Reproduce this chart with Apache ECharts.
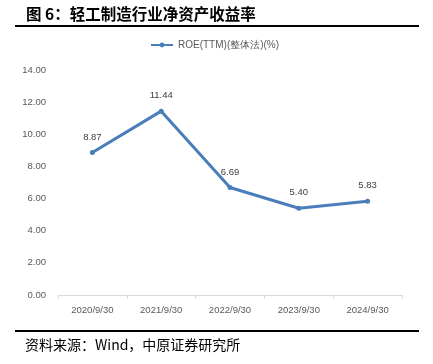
<!DOCTYPE html>
<html><head><meta charset="utf-8">
<script src="https://cdn.jsdelivr.net/npm/echarts@6/dist/echarts.min.js"></script>
<style>html,body{margin:0;padding:0;background:#fff;}#c{width:433px;height:364px;}</style>
</head><body><div id="c"></div>
<script>
const categories = ['2020/9/30','2021/9/30','2022/9/30','2023/9/30','2024/9/30'];
const roeValues = [8.87, 11.44, 6.69, 5.40, 5.83];
const seriesName = 'ROE(TTM)(整体法)(%)';
const chart = echarts.init(document.getElementById('c'), null, {renderer:'canvas'});
chart.setOption({
  animation:false,
  backgroundColor:'#fff',
  title:[{text:'图 6：轻工制造行业净资产收益率', left:26, top:6, padding:0,
    textStyle:{fontSize:15.5, fontWeight:'bold', color:'#000', fontFamily:'Noto Sans CJK SC'}},
    {text:'资料来源：Wind，中原证券研究所', left:25, top:338, padding:0,
    textStyle:{fontSize:14, fontWeight:'normal', color:'#000', fontFamily:'Noto Sans CJK SC'}}],
  graphic:[
    {type:'rect', shape:{x:15,y:25,width:404,height:2}, style:{fill:'#000'}},
    {type:'rect', shape:{x:15,y:330,width:404,height:2}, style:{fill:'#000'}}
  ],
  legend:{top:40, left:150, padding:0, itemWidth:22, itemHeight:6, itemGap:4,
    textStyle:{fontSize:10, color:'#595959', fontFamily:'Liberation Sans'},
    data:[{name:seriesName}]},
  grid:{left:58, right:31, top:70, bottom:69},
  xAxis:{type:'category', data:categories, boundaryGap:true,
    axisLine:{lineStyle:{color:'#d9d9d9'}},
    axisTick:{show:true, length:4, lineStyle:{color:'#d9d9d9'}},
    axisLabel:{fontSize:9.5, color:'#595959', margin:10, fontFamily:'Liberation Sans'}},
  yAxis:{type:'value', min:0, max:14, interval:2,
    axisLine:{show:false}, axisTick:{show:false}, splitLine:{show:false},
    axisLabel:{fontSize:9.5, color:'#595959', margin:12, fontFamily:'Liberation Sans',
      formatter:v=>v.toFixed(2)}},
  series:[{name:seriesName, type:'line', data:roeValues,
    lineStyle:{color:'#4A7EBB', width:3}, itemStyle:{color:'#4A7EBB'},
    symbol:'circle', symbolSize:5,
    label:{show:true, position:'top', distance:8, fontSize:9.5, color:'#404040',
      fontFamily:'Liberation Sans', formatter:p=>p.value.toFixed(2)}}]
});
</script></body></html>
